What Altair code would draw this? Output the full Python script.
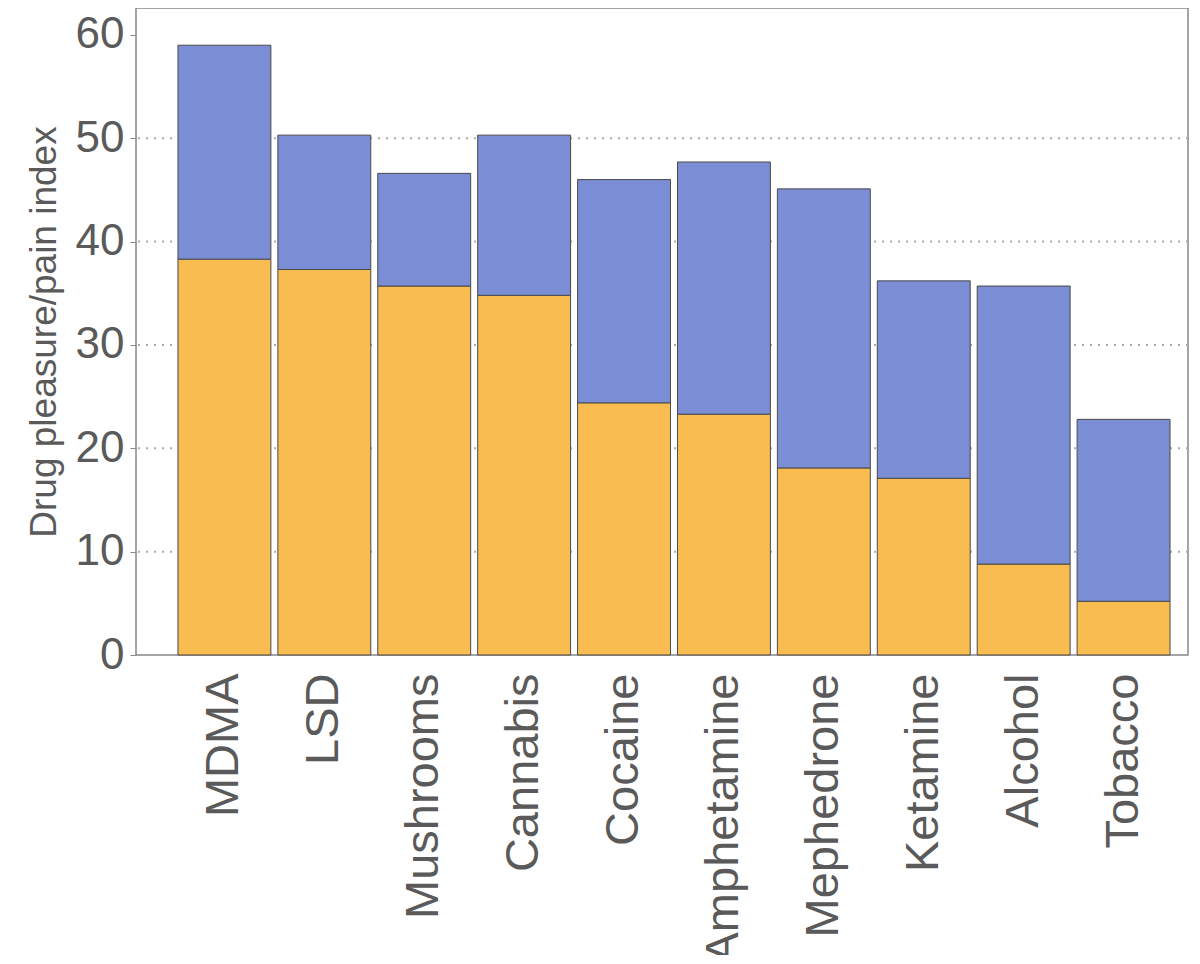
import pandas as pd
import altair as alt

drugs = ["MDMA", "LSD", "Mushrooms", "Cannabis", "Cocaine", "Amphetamine",
         "Mephedrone", "Ketamine", "Alcohol", "Tobacco"]
pleasure = [38.3, 37.3, 35.7, 34.8, 24.4, 23.3, 18.1, 17.1, 8.8, 5.2]
extra = [20.7, 13.0, 10.9, 15.5, 21.6, 24.4, 27.0, 19.1, 26.9, 17.6]
grid_values = [10, 20, 30, 40, 50]

rows = []
for d, a, b in zip(drugs, pleasure, extra):
    rows.append({"drug": d, "part": "lower", "k": 0, "value": a})
    rows.append({"drug": d, "part": "upper", "k": 1, "value": b})
df = pd.DataFrame(rows)

font = "Liberation Sans"
yscale = alt.Scale(domain=[0, 62.6], nice=False)

grid = (
    alt.Chart(pd.DataFrame({"g": grid_values}))
    .mark_rule(color="#aaaaaa", strokeDash=[2, 6], strokeWidth=2)
    .encode(y=alt.Y("g:Q", scale=yscale))
)

bars = (
    alt.Chart(df)
    .mark_bar(stroke="#4a4a4a", strokeWidth=1)
    .encode(
        x=alt.X("drug:N", sort=drugs,
                scale=alt.Scale(paddingInner=0.07, paddingOuter=0.3, align=0.7),
                axis=alt.Axis(title=None, labelAngle=-90, labelFontSize=47,
                              labelColor="#5a5a5a", labelFont=font, labelPadding=18,
                              labelLimit=400, ticks=False, domain=False)),
        y=alt.Y("value:Q", stack="zero", scale=yscale,
                axis=alt.Axis(title="Drug pleasure/pain index", titleFontSize=37,
                              titleFont=font, titleColor="#5a5a5a", titleFontWeight="normal",
                              titlePadding=12,
                              values=[0, 10, 20, 30, 40, 50, 60], labelFontSize=44,
                              labelFont=font, labelColor="#5a5a5a", labelPadding=6,
                              tickSize=6, tickColor="#888", domain=False, grid=False)),
        color=alt.Color("part:N", scale=alt.Scale(domain=["lower", "upper"],
                        range=["#F9BC50", "#7B8DD4"]), legend=None),
        order=alt.Order("k:Q"),
    )
)

chart = (
    (grid + bars)
    .properties(width=1052, height=647,
                autosize=alt.AutoSizeParams(type="none"),
                padding={"left": 128, "top": 0, "right": 4, "bottom": 300})
    .configure_view(stroke="#888888", strokeWidth=1.5)
)

chart.save("out.html", embed_options={"renderer": "svg", "actions": False})
